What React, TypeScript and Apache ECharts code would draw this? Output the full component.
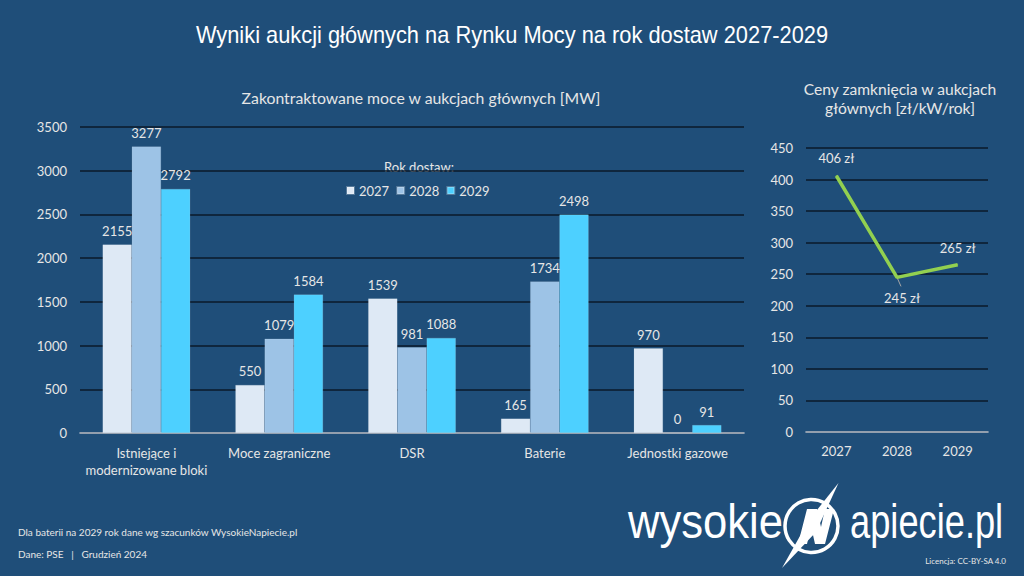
import React, { useEffect, useRef } from "react";
import * as echarts from "echarts";

const categories = [
  "Istniejące i\nmodernizowane bloki",
  "Moce zagraniczne",
  "DSR",
  "Baterie",
  "Jednostki gazowe",
];
const years = ["2027", "2028", "2029"];
const mw2027 = [2155, 550, 1539, 165, 970];
const mw2028 = [3277, 1079, 981, 1734, 0];
const mw2029 = [2792, 1584, 1088, 2498, 91];
const priceYears = ["2027", "2028", "2029"];
const prices = [406, 245, 265];

const BG = "#1f4e79";
const TXT = "#e6e6e6";
const FONT = "Lato, 'Noto Sans', sans-serif";
const SANS = "'Liberation Sans', Arial, sans-serif";
const barColors = ["#dee9f5", "#9dc3e6", "#4dd0ff"];

function txt(id: string, x: number, y: number, text: string, font: string, align = "center", fill = TXT, scaleX = 1) {
  return {
    type: "text",
    id,
    x,
    y,
    scaleX,
    silent: true,
    style: {
      text,
      font,
      fill,
      align,
      verticalAlign: "middle",
      textAlign: align,
      textVerticalAlign: "middle",
    },
  };
}

export default function App() {
  const ref = useRef<HTMLDivElement>(null);
  useEffect(() => {
    const chart = echarts.init(ref.current!, null, { renderer: "svg" });
    const gridLine = { show: true, lineStyle: { color: "#0b1a2a", width: 1.5 } };
    const axisLabel = { color: TXT, fontFamily: FONT, fontSize: 13 };
    const graphics: any[] = [
      txt("t1", 512, 35, "Wyniki aukcji głównych na Rynku Mocy na rok dostaw 2027-2029", `23px ${SANS}`, "center", "#ffffff", 0.95),
      txt("t2", 421, 97, "Zakontraktowane moce w aukcjach głównych [MW]", `15.8px ${FONT}`),
      txt("t3", 900, 89, "Ceny zamknięcia w aukcjach", `15.6px ${FONT}`),
      txt("t4", 900, 108, "głównych [zł/kW/rok]", `15.6px ${FONT}`),
      txt("t5", 419, 167, "Rok dostaw:", `13px ${FONT}`),
      txt("f1", 18, 532, "Dla baterii na 2029 rok dane wg szacunków WysokieNapiecie.pl", `10px ${FONT}`, "left"),
      txt("f2", 18, 554, "Dane: PSE   |   Grudzień 2024", `10px ${FONT}`, "left"),
      txt("f3", 1006, 561, "Licencja: CC-BY-SA 4.0", `8px ${FONT}`, "right"),
      txt("l1", 783, 521, "wysokie", `49px ${SANS}`, "right", "#ffffff", 0.89),
      txt("l2", 850, 521, "apiecie.pl", `49px ${SANS}`, "left", "#ffffff", 0.74),
      {
        type: "circle",
        id: "lc",
        shape: { cx: 811.5, cy: 526, r: 26.5 },
        style: { fill: "none", stroke: "#ffffff", lineWidth: 3.5 },
        silent: true,
      },
      {
        type: "polygon",
        id: "ln",
        shape: {
          points: [
            [798, 544], [807, 509], [817, 509], [821, 527], [825, 509], [834, 509], [825, 544], [815, 544], [811, 526], [807, 544],
          ],
        },
        style: { fill: "#ffffff" },
        silent: true,
      },
      {
        type: "polygon",
        id: "lb",
        shape: { points: [[838.5, 483], [816, 532], [782, 568], [809, 520]] },
        style: { fill: "#ffffff" },
        silent: true,
      },
    ];

    const option: any = {
      animation: false,
      backgroundColor: BG,
      textStyle: { fontFamily: FONT },
      legend: {
        data: years,
        left: 346,
        top: 184,
        padding: 0,
        itemWidth: 7,
        itemHeight: 7,
        itemGap: 7,
        icon: "rect",
        textStyle: { color: TXT, fontSize: 13, fontFamily: FONT },
      },
      grid: [
        { left: 80, right: 280, top: 127, bottom: 143 },
        { left: 806, right: 36, top: 148, bottom: 144 },
      ],
      xAxis: [
        {
          type: "category",
          gridIndex: 0,
          data: categories,
          axisLine: { lineStyle: { color: "#c0c8d4", width: 1.5 } },
          axisTick: { show: false },
          axisLabel: { ...axisLabel, margin: 11, lineHeight: 17, interval: 0 },
        },
        {
          type: "category",
          gridIndex: 1,
          data: priceYears,
          axisLine: { lineStyle: { color: "#c0c8d4", width: 1.5 } },
          axisTick: { show: false },
          axisLabel: { ...axisLabel, margin: 12 },
        },
      ],
      yAxis: [
        {
          type: "value",
          gridIndex: 0,
          min: 0,
          max: 3500,
          interval: 500,
          axisLine: { show: false },
          axisTick: { show: false },
          splitLine: gridLine,
          axisLabel: { ...axisLabel, margin: 13, formatter: (v: number) => String(v) },
        },
        {
          type: "value",
          gridIndex: 1,
          min: 0,
          max: 450,
          interval: 50,
          axisLine: { show: false },
          axisTick: { show: false },
          splitLine: gridLine,
          axisLabel: { ...axisLabel, margin: 13, formatter: (v: number) => String(v) },
        },
      ],
      series: [
        ...[mw2027, mw2028, mw2029].map((d, i) => ({
          type: "bar",
          name: years[i],
          xAxisIndex: 0,
          yAxisIndex: 0,
          data: d,
          barGap: "0%",
          barCategoryGap: "34%",
          itemStyle: { color: barColors[i], borderColor: "rgba(255,255,255,0.25)", borderWidth: 0.5 },
          label: { show: true, position: "top", distance: 7, color: TXT, fontSize: 13, fontFamily: FONT },
        })),
        {
          type: "line",
          name: "Cena",
          xAxisIndex: 1,
          yAxisIndex: 1,
          symbol: "circle",
          symbolSize: 1,
          showSymbol: true,
          itemStyle: { color: "#92d050" },
          lineStyle: { color: "#92d050", width: 3.5 },
          data: prices.map((v, i) => ({
            value: v,
            label: {
              show: true,
              position: i === 1 ? "bottom" : "top",
              distance: i === 0 ? 11 : i === 1 ? 14 : 10,
              offset: i === 1 ? [5, 0] : [0, 0],
              formatter: "{c} zł",
              color: TXT,
              fontSize: 13,
              fontFamily: FONT,
            },
          })),
        },
      ],
      graphic: graphics,
    };
    chart.setOption(option);
    const p = chart.convertToPixel({ xAxisIndex: 1, yAxisIndex: 1 }, [priceYears[1], prices[1]]) as number[];
    if (p && p.length === 2) {
      chart.setOption({
        graphic: [
          ...graphics,
          {
            type: "line",
            id: "leader",
            shape: { x1: p[0], y1: p[1], x2: p[0] + 4, y2: p[1] + 9 },
            style: { stroke: "#a6a6a6", lineWidth: 1 },
            silent: true,
          },
        ],
      });
    }
    return () => chart.dispose();
  }, []);
  return <div ref={ref} style={{ position: "fixed", left: 0, top: 0, width: 1024, height: 576 }} />;
}
